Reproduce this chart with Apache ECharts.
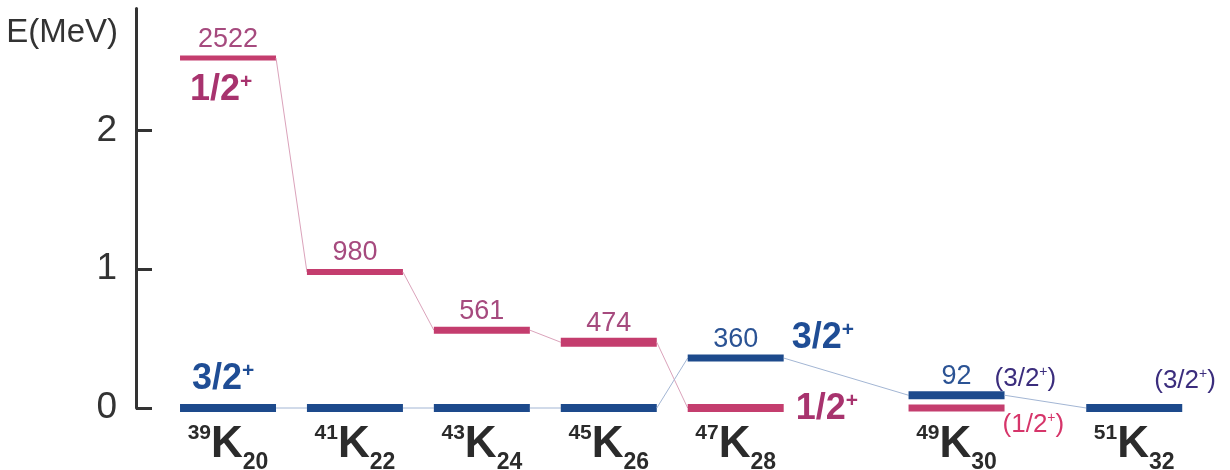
<!DOCTYPE html>
<html>
<head>
<meta charset="utf-8">
<script src="https://cdn.jsdelivr.net/npm/echarts@6/dist/echarts.min.js"></script>
<style>
  html, body { margin: 0; padding: 0; background: #fff; }
  #chart { width: 1230px; height: 470px; }
</style>
</head>
<body>
<div id="chart"></div>
<script>
// potassium isotopes, mass number and neutron number
var massNumbers = [39, 41, 43, 45, 47, 49, 51];
var neutronNumbers = [20, 22, 24, 26, 28, 30, 32];
// where each nucleus sits along x (gap gets wider after 47K)
var nucleusX = [0, 1, 2, 3, 4, 5.74, 7.14];
// level energies in keV (null = no level drawn)
var halfPlusLevels = [2522, 980, 561, 474, 0, 0, null];
var threeHalfPlusLevels = [0, 0, 0, 0, 360, 92, 0];
// numbers written above the levels
var halfPlusEnergyText = ["2522", "980", "561", "474", "", "", ""];
var threeHalfPlusEnergyText = ["", "", "", "", "360", "92", ""];
// spin labels, brackets = tentative
var halfPlusSpins = ["1/2", "", "", "", "1/2", "(1/2)", ""];
var threeHalfPlusSpins = ["3/2", "", "", "", "3/2", "(3/2)", "(3/2)"];
// last nucleus that is joined to its neighbour
var halfPlusLastLink = 4;
var threeHalfPlusLastLink = 6;
var yTicks = [0, 1, 2];

var HALF_W = 48;
var FONT = 'Liberation Sans';

var spinRich = {
  rb: { fontFamily: FONT, fontSize: 36, fontWeight: 'bold', fill: '#a8336e', lineHeight: 36 },
  rbs: { fontFamily: FONT, fontSize: 21, fontWeight: 'bold', fill: '#a8336e', lineHeight: 21, verticalAlign: 'top' },
  bb: { fontFamily: FONT, fontSize: 36, fontWeight: 'bold', fill: '#1f4d95', lineHeight: 36 },
  bbs: { fontFamily: FONT, fontSize: 21, fontWeight: 'bold', fill: '#1f4d95', lineHeight: 21, verticalAlign: 'top' },
  rp: { fontFamily: FONT, fontSize: 26, fill: '#d6356a', lineHeight: 28 },
  rps: { fontFamily: FONT, fontSize: 14, fill: '#d6356a', lineHeight: 14, verticalAlign: 'top' },
  bp: { fontFamily: FONT, fontSize: 26, fill: '#3b2d7d', lineHeight: 28 },
  bps: { fontFamily: FONT, fontSize: 14, fill: '#3b2d7d', lineHeight: 14, verticalAlign: 'top' }
};

function spinText(s, key) {
  if (s.charAt(0) === '(') {
    return '{' + key + 'p|' + s.slice(0, -1) + '}{' + key + 'ps|+}{' + key + 'p|)}';
  }
  return '{' + key + 'b|' + s + '}{' + key + 'bs|+}';
}

function levelSeries(name, levels, energyText, spins, lastLink, look) {
  return {
    type: 'custom',
    name: name,
    clip: false,
    silent: true,
    data: levels.map(function (e, i) {
      return [nucleusX[i], e == null ? 0 : e / 1000];
    }),
    renderItem: function (params, api) {
      var i = params.dataIndex;
      if (levels[i] == null) return;
      var p = api.coord([nucleusX[i], levels[i] / 1000]);
      var th = look.thick[i];
      var kids = [{
        type: 'rect',
        shape: { x: p[0] - HALF_W, y: p[1] - th / 2, width: HALF_W * 2, height: th },
        style: { fill: look.bar }
      }];
      if (i < lastLink && levels[i + 1] != null) {
        var q = api.coord([nucleusX[i + 1], levels[i + 1] / 1000]);
        kids.push({
          type: 'line',
          shape: { x1: p[0] + HALF_W, y1: p[1], x2: q[0] - HALF_W, y2: q[1] },
          style: { stroke: look.link, lineWidth: 1 }
        });
      }
      if (energyText[i]) {
        kids.push({
          type: 'text',
          style: {
            text: energyText[i], x: p[0], y: p[1] - 19,
            align: 'center', verticalAlign: 'middle',
            fontFamily: FONT, fontSize: 27, fill: look.num
          }
        });
      }
      if (spins[i]) {
        var pos = look.spinPos[i];
        var ex = pos.side === 'left' ? p[0] - HALF_W : p[0] + HALF_W;
        kids.push({
          type: 'text',
          style: {
            text: spinText(spins[i], look.key), rich: spinRich,
            x: ex + pos.dx, y: p[1] + pos.dy,
            align: 'left', verticalAlign: 'middle'
          }
        });
      }
      return { type: 'group', children: kids };
    }
  };
}

var chart = echarts.init(document.getElementById('chart'));

chart.setOption({
  backgroundColor: '#fff',
  animation: false,
  grid: { left: 136, right: 12, top: 8.4, bottom: 62, outerBoundsMode: 'none', containLabel: false },
  xAxis: {
    type: 'value',
    min: -0.725,
    max: 7.8,
    axisLine: { show: false, onZero: false },
    axisTick: { show: false },
    splitLine: { show: false },
    axisLabel: {
      customValues: nucleusX,
      margin: 15,
      formatter: function (v) {
        var best = 0;
        for (var i = 1; i < nucleusX.length; i++) {
          if (Math.abs(nucleusX[i] - v) < Math.abs(nucleusX[best] - v)) best = i;
        }
        return '{sup|' + massNumbers[best] + '}{k|K}{sub|' + neutronNumbers[best] + '}';
      },
      rich: {
        sup: { fontFamily: FONT, fontSize: 21, fontWeight: 'bold', color: '#2b2b2b', lineHeight: 21, verticalAlign: 'top' },
        k: { fontFamily: FONT, fontSize: 44, fontWeight: 'bold', color: '#2b2b2b', lineHeight: 44, verticalAlign: 'top' },
        sub: { fontFamily: FONT, fontSize: 23, fontWeight: 'bold', color: '#2b2b2b', lineHeight: 51, verticalAlign: 'bottom' }
      }
    }
  },
  yAxis: {
    type: 'value',
    min: 0,
    max: 2.88,
    name: 'E(MeV)',
    nameLocation: 'end',
    nameGap: -8,
    nameTextStyle: {
      fontFamily: FONT, fontSize: 33, color: '#333',
      align: 'right', verticalAlign: 'top', padding: [0, 18, 0, 0]
    },
    axisLine: { show: true, onZero: false, lineStyle: { color: '#333', width: 3 } },
    axisTick: { show: true, inside: true, length: 16, lineStyle: { color: '#333', width: 3 }, customValues: yTicks },
    splitLine: { show: false },
    axisLabel: {
      customValues: yTicks,
      margin: 19,
      fontFamily: FONT,
      fontSize: 37,
      color: '#333'
    }
  },
  series: [
    levelSeries('1/2+', halfPlusLevels, halfPlusEnergyText, halfPlusSpins, halfPlusLastLink, {
      key: 'r', bar: '#c43d6e', link: '#dba3bb', num: '#a64a7e',
      thick: [5, 6, 7, 9, 8, 7, 7],
      spinPos: {
        0: { side: 'left', dx: 10, dy: 32 },
        4: { side: 'right', dx: 12, dy: 1 },
        5: { side: 'right', dx: -2, dy: 17 }
      }
    }),
    levelSeries('3/2+', threeHalfPlusLevels, threeHalfPlusEnergyText, threeHalfPlusSpins, threeHalfPlusLastLink, {
      key: 'b', bar: '#1d4a8c', link: '#a3b6d4', num: '#2b5394',
      thick: [8, 8, 8, 8, 7, 8, 8],
      spinPos: {
        0: { side: 'left', dx: 12, dy: -29 },
        4: { side: 'right', dx: 8, dy: -20 },
        5: { side: 'right', dx: -10, dy: -16 },
        6: { side: 'right', dx: -28, dy: -27 }
      }
    })
  ]
});
</script>
</body>
</html>
